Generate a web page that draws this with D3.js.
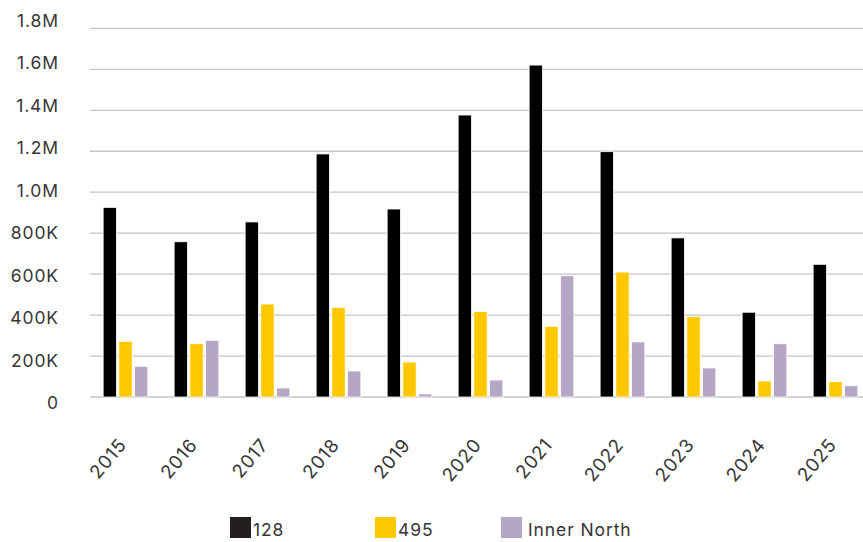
<!DOCTYPE html>
<html>
<head>
<meta charset="utf-8">
<script src="https://cdn.jsdelivr.net/npm/d3@7"></script>
<style>
  body { margin: 0; background: #fff; }
  svg text { font-family: Inter, "Noto Sans", sans-serif; fill: #363636; letter-spacing: 0.9px; }
</style>
</head>
<body>
<main></main>
<script>
const years = ["2015", "2016", "2017", "2018", "2019", "2020", "2021", "2022", "2023", "2024", "2025"];
const seriesNames = ["128", "495", "Inner North"];
const values128 = [926000, 758000, 855000, 1187000, 918000, 1377000, 1621000, 1198000, 777000, 414000, 648000];
const values495 = [272000, 260000, 454000, 438000, 171000, 418000, 345000, 610000, 392000, 78000, 75000];
const valuesInner = [150000, 277000, 44000, 127000, 15000, 83000, 592000, 269000, 142000, 260000, 55000];
const yTicks = [0, 200000, 400000, 600000, 800000, 1000000, 1200000, 1400000, 1600000, 1800000];
const yTickLabels = ["0", "200K", "400K", "600K", "800K", "1.0M", "1.2M", "1.4M", "1.6M", "1.8M"];
const colors = ["#000000", "#ffc800", "#b5a6c5"];
const legendColors = ["#231f20", "#ffc800", "#b5a6c5"];

const width = 863;
const height = 542;
const seriesValues = [values128, values495, valuesInner];

const svg = d3.select("main").append("svg")
  .attr("width", width)
  .attr("height", height);

const x0 = d3.scaleBand()
  .domain(years)
  .range([90, 871])
  .paddingInner(0.37)
  .paddingOuter(0.185);

const x1 = d3.scaleBand()
  .domain(seriesNames)
  .range([0, x0.bandwidth()])
  .paddingInner(0.15);

const y = d3.scaleLinear().domain([0, 1800000]).range([397, 28.4]);
// tick labels sit on a slightly wider pitch than the gridlines
const yLabel = d3.scaleLinear().domain([0, 1800000]).range([403, 20.5]);

// gridlines
svg.append("g").attr("class", "grid")
  .selectAll("line")
  .data(yTicks)
  .join("line")
  .attr("x1", 90)
  .attr("x2", width)
  .attr("y1", (d) => y(d))
  .attr("y2", (d) => y(d))
  .attr("stroke", "#c4c4c4")
  .attr("stroke-width", 1.3);

// y labels
svg.append("g").attr("class", "y-labels")
  .selectAll("text")
  .data(yTicks)
  .join("text")
  .attr("x", 59)
  .attr("y", (d) => yLabel(d))
  .attr("dy", "0.36em")
  .attr("text-anchor", "end")
  .attr("font-size", 17.5)
  .text((d, i) => yTickLabels[i]);

// bars
const groups = svg.append("g").attr("class", "bars")
  .selectAll("g")
  .data(years)
  .join("g")
  .attr("transform", (d) => `translate(${x0(d)},0)`);

groups.selectAll("rect")
  .data((d, i) => seriesNames.map((s, j) => ({ key: s, idx: j, value: seriesValues[j][i] })))
  .join("rect")
  .attr("x", (d) => x1(d.key))
  .attr("y", (d) => y(d.value))
  .attr("width", x1.bandwidth())
  .attr("height", (d) => y(0) - y(d.value))
  .attr("fill", (d) => colors[d.idx])
  .attr("stroke", "#ffffff")
  .attr("stroke-width", 0.8);

// x labels
svg.append("g").attr("class", "x-labels")
  .selectAll("text")
  .data(years)
  .join("text")
  .attr("transform", (d) => `translate(${x0(d) + x0.bandwidth() / 2 - 3},${441}) rotate(-50)`)
  .attr("text-anchor", "end")
  .attr("dy", "0.35em")
  .attr("font-size", 18.5)
  .text((d) => d);

// legend
const legendX = [230, 375, 501];
const legendTextX = [253, 398, 528];
const legend = svg.append("g").attr("class", "legend");
seriesNames.forEach((s, i) => {
  legend.append("rect")
    .attr("x", legendX[i])
    .attr("y", 517)
    .attr("width", 21)
    .attr("height", 21)
    .attr("fill", legendColors[i]);
  legend.append("text")
    .attr("x", legendTextX[i])
    .attr("y", 536)
    .attr("font-size", 17.5)
    .text(s);
});
</script>
</body>
</html>
